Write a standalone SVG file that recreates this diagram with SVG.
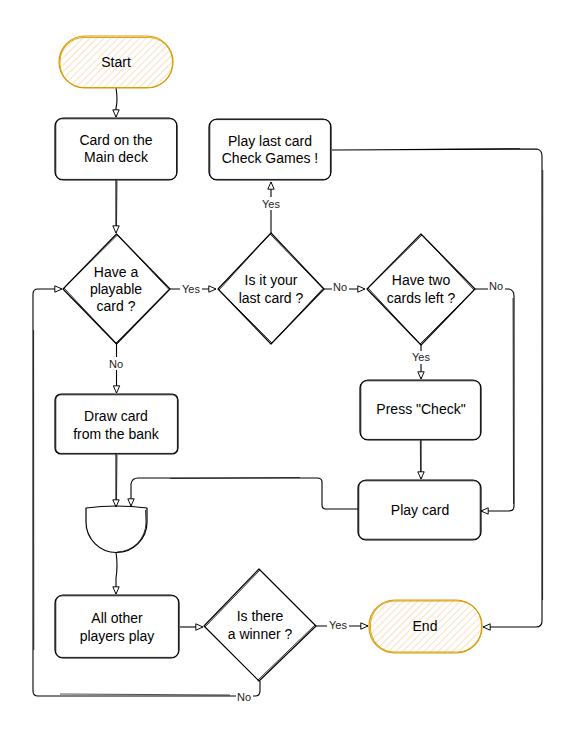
<svg xmlns="http://www.w3.org/2000/svg" width="579" height="736" viewBox="0 0 579 736">
<style>
  .txt{font-family:"Liberation Sans",Arial,sans-serif;font-size:14px;fill:#000;text-anchor:middle;dominant-baseline:central}
  .lbl{font-family:"Liberation Sans",Arial,sans-serif;font-size:11px;fill:#222;text-anchor:middle;dominant-baseline:central}
  .box{fill:none;stroke:#000;stroke-width:1.2;stroke-linejoin:round}
  .box2{fill:none;stroke:#000;stroke-width:0.8;stroke-linejoin:round}
  .term{fill:url(#hach);stroke:#d79b00;stroke-width:1.2}
  .term2{fill:none;stroke:#d79b00;stroke-width:0.9}
  .edge{fill:none;stroke:#000;stroke-width:1.1;stroke-linejoin:round}
  .edge2{fill:none;stroke:#000;stroke-width:0.7}
  .lblbg{fill:#fff}
</style>
<defs>
  <pattern id="hach" width="5" height="5" patternUnits="userSpaceOnUse" patternTransform="rotate(45)">
    <rect width="5" height="5" fill="#fff"/>
    <line x1="0" y1="0" x2="0" y2="5" stroke="#f9d3a5" stroke-width="1.4"/>
  </pattern>
  <marker id="arr" viewBox="0 0 10 10" refX="9.5" refY="5" markerWidth="8" markerHeight="8" markerUnits="userSpaceOnUse" orient="auto">
    <path d="M0.5,1 L9.5,5 L0.5,9 Z" fill="#fff" stroke="#000" stroke-width="1.2"/>
  </marker>
</defs>
<rect width="579" height="736" fill="#fff"/>

<g id="connectors">
  <path class="edge" d="M116,88 Q118,100 116,108 L116,117" marker-end="url(#arr)"/>
  <path class="edge" d="M116,180 L116,233" marker-end="url(#arr)"/>
  <path class="edge2" d="M117,181 L116.5,226"/>
  <path class="edge" d="M170,289 L216,289" marker-end="url(#arr)"/>
  <path class="edge" d="M271,233 L271,182" marker-end="url(#arr)"/>
  <path class="edge" d="M324,289 L365,289" marker-end="url(#arr)"/>
  <path class="edge" d="M116.5,344 L116.5,393" marker-end="url(#arr)"/>
  <path class="edge" d="M475,289 L509,289 Q514,290 514,296 L514,506 Q514,511 509,511 L481,511" marker-end="url(#arr)"/>
  <path class="edge2" d="M513,298 L513.5,504"/>
  <path class="edge" d="M421,345 L421,379" marker-end="url(#arr)"/>
  <path class="edge" d="M421,440 L421,479" marker-end="url(#arr)"/>
  <path class="edge2" d="M420.3,441 L420.6,472"/>
  <path class="edge" d="M358,509 L326,509 Q322,509 322,505 L322,482 Q322,478 317,478 L138,478 Q132,478 131,484 L131,506" marker-end="url(#arr)"/>
  <path class="edge2" d="M300,477.5 L170,478.5"/>
  <path class="edge" d="M116,454 L116,507" marker-end="url(#arr)"/>
  <path class="edge2" d="M117,455 L116.5,500"/>
  <path class="edge" d="M116,552 Q118,566 116,578 L116,594" marker-end="url(#arr)"/>
  <path class="edge" d="M180,627 L203,627" marker-end="url(#arr)"/>
  <path class="edge" d="M316,626 L368,626" marker-end="url(#arr)"/>
  <path class="edge" d="M260,681 L260,691 Q260,696 255,696 L38,696 Q33,696 33,691 L33,294 Q33,289 38,289 L62,289" marker-end="url(#arr)"/>
  <path class="edge2" d="M230,695 L60,694"/>
  <path class="edge2" d="M33.8,650 L33.6,330"/>
  <path class="edge" d="M332,150 L537,149 Q542,150 542,156 L542,621 Q542,627 536,627 L483,627" marker-end="url(#arr)"/>
  <path class="edge2" d="M400,149.5 L520,148.5"/>
  <path class="edge2" d="M542.8,170 L542.6,600"/>

  <rect class="lblbg" x="180" y="282" width="22" height="13"/>
  <text class="lbl" x="191" y="289">Yes</text>
  <rect class="lblbg" x="260" y="197" width="22" height="13"/>
  <text class="lbl" x="271" y="204">Yes</text>
  <rect class="lblbg" x="332" y="281" width="17" height="13"/>
  <text class="lbl" x="340" y="287">No</text>
  <rect class="lblbg" x="488" y="280" width="17" height="13"/>
  <text class="lbl" x="496" y="286">No</text>
  <rect class="lblbg" x="410" y="351" width="22" height="13"/>
  <text class="lbl" x="421" y="357">Yes</text>
  <rect class="lblbg" x="108" y="357" width="17" height="13"/>
  <text class="lbl" x="116" y="364">No</text>
  <rect class="lblbg" x="327" y="619" width="22" height="13"/>
  <text class="lbl" x="338" y="625">Yes</text>
  <rect class="lblbg" x="236" y="690" width="17" height="13"/>
  <text class="lbl" x="244" y="697">No</text>
</g>

<g id="start">
  <rect class="term" x="59" y="36" width="114" height="52" rx="26"/>
  <rect class="term2" x="60" y="37.5" width="112.5" height="50" rx="24"/>
  <text class="txt" x="116" y="62">Start</text>
</g>

<g id="card-main-deck">
  <rect class="box" x="55" y="118" width="122" height="62" rx="8"/>
  <rect class="box2" x="55.8" y="118.8" width="120.8" height="60.6" rx="6"/>
  <text class="txt" x="116" y="140">Card on the</text>
  <text class="txt" x="116" y="157">Main deck</text>
</g>

<g id="play-last-card">
  <rect class="box" x="209" y="119" width="122" height="61" rx="8"/>
  <rect class="box2" x="209.8" y="119.6" width="120.6" height="59.8" rx="6"/>
  <text class="txt" x="270" y="141">Play last card</text>
  <text class="txt" x="270" y="158">Check Games !</text>
</g>

<g id="have-playable">
  <polygon class="box" points="116.5,234 170,289 116.5,344 63,289"/>
  <polygon class="box2" points="117.5,235 169,289.5 116,343 64,288"/>
  <text class="txt" x="116" y="272">Have a</text>
  <text class="txt" x="116" y="289">playable</text>
  <text class="txt" x="116" y="306">card ?</text>
</g>

<g id="last-card">
  <polygon class="box" points="271,233 324,289 271,344 218,289"/>
  <polygon class="box2" points="270,234 323,288.5 272,343 219,290"/>
  <text class="txt" x="271" y="280">Is it your</text>
  <text class="txt" x="271" y="298">last card ?</text>
</g>

<g id="two-cards">
  <polygon class="box" points="421,234 475,289 421,345 367,289"/>
  <polygon class="box2" points="422,235 474,290 420,344 368,288"/>
  <text class="txt" x="421" y="280">Have two</text>
  <text class="txt" x="421" y="298">cards left ?</text>
</g>

<g id="press-check">
  <rect class="box" x="360" y="380" width="121" height="60" rx="8"/>
  <rect class="box2" x="360.8" y="380.8" width="119.6" height="58.6" rx="6"/>
  <text class="txt" x="421" y="409">Press "Check"</text>
</g>

<g id="play-card">
  <rect class="box" x="358" y="480" width="123" height="60" rx="8"/>
  <rect class="box2" x="358.8" y="480.8" width="121.4" height="58.4" rx="6"/>
  <text class="txt" x="420" y="510">Play card</text>
</g>

<g id="draw-card">
  <rect class="box" x="55" y="394" width="123" height="60" rx="6"/>
  <rect class="box2" x="55.8" y="394.8" width="121.6" height="58.6" rx="5"/>
  <text class="txt" x="116" y="416">Draw card</text>
  <text class="txt" x="116" y="434">from the bank</text>
</g>

<g id="merge">
  <path class="box" d="M86,508 Q116.5,504 147,508 L147,522 A30.5,30.5 0 0 1 86,522 Z" fill="#fff"/>
  <path class="box2" d="M145.5,510 L146,523 A29.5,29.5 0 0 1 117,552"/>
</g>

<g id="all-other">
  <rect class="box" x="55" y="595" width="124" height="63" rx="8"/>
  <rect class="box2" x="55.8" y="595.8" width="122.6" height="61.6" rx="6"/>
  <text class="txt" x="117" y="618">All other</text>
  <text class="txt" x="117" y="636">players play</text>
</g>

<g id="winner">
  <polygon class="box" points="259,569 316,626 259,681 204,626"/>
  <polygon class="box2" points="260,570 315,625 258,680 205,627"/>
  <text class="txt" x="260" y="616">Is there</text>
  <text class="txt" x="260" y="634">a winner ?</text>
</g>

<g id="end">
  <rect class="term" x="369" y="600" width="113" height="53" rx="26"/>
  <rect class="term2" x="370.5" y="601" width="111" height="51" rx="24"/>
  <text class="txt" x="425" y="626">End</text>
</g>
</svg>
